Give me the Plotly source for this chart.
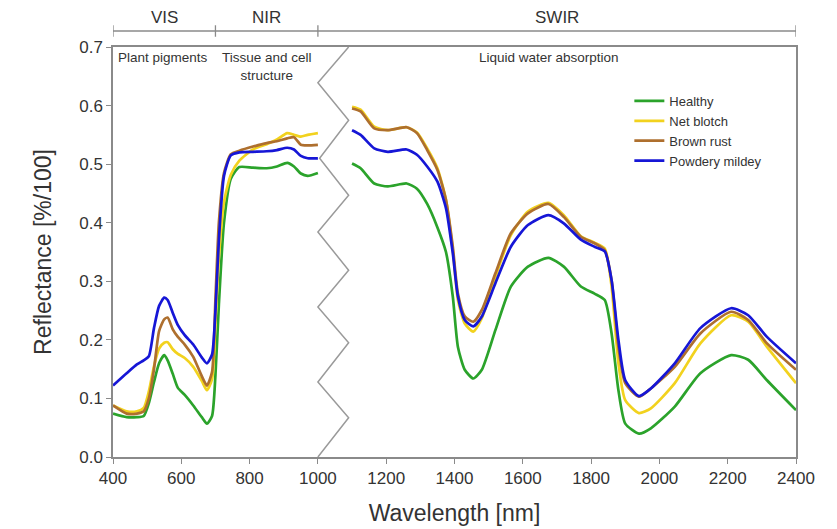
import plotly.graph_objects as go

# ---------------- data ----------------
WL_VNIR = [400, 440, 470, 490, 505, 520, 535, 550, 560, 575, 590, 610, 635, 660, 675, 690,
           700, 710, 725, 745, 770, 810, 850, 880, 910, 930, 950, 970, 1000]
WL_SWIR = [1100, 1125, 1165, 1205, 1260, 1290, 1320, 1350, 1375, 1395, 1410, 1430, 1455, 1480,
           1520, 1565, 1615, 1675, 1720, 1770, 1810, 1840, 1860, 1880, 1900, 1940, 1975, 2045,
           2120, 2210, 2260, 2315, 2400]

SERIES = ["Healthy", "Net blotch", "Brown rust", "Powdery mildey"]

HEALTHY_VNIR = [0.074, 0.068, 0.068, 0.070, 0.092, 0.128, 0.160, 0.174, 0.165, 0.142, 0.118, 0.106,
                0.088, 0.068, 0.057, 0.070, 0.140, 0.260, 0.400, 0.475, 0.495, 0.494, 0.493, 0.496,
                0.502, 0.496, 0.484, 0.480, 0.485]
NETBLOTCH_VNIR = [0.088, 0.078, 0.078, 0.084, 0.112, 0.155, 0.185, 0.195, 0.196, 0.184, 0.176, 0.169,
                  0.154, 0.130, 0.114, 0.133, 0.230, 0.340, 0.435, 0.482, 0.506, 0.525, 0.534, 0.542,
                  0.553, 0.550, 0.547, 0.550, 0.553]
BROWNRUST_VNIR = [0.088, 0.074, 0.074, 0.078, 0.100, 0.150, 0.215, 0.235, 0.238, 0.218, 0.205, 0.192,
                  0.171, 0.138, 0.122, 0.145, 0.270, 0.400, 0.485, 0.517, 0.523, 0.530, 0.536, 0.539,
                  0.544, 0.546, 0.533, 0.532, 0.533]
MILDEW_VNIR = [0.122, 0.143, 0.158, 0.165, 0.172, 0.220, 0.258, 0.272, 0.268, 0.246, 0.225, 0.208,
               0.192, 0.170, 0.160, 0.175, 0.250, 0.370, 0.480, 0.515, 0.520, 0.521, 0.522, 0.524,
               0.528, 0.525, 0.514, 0.510, 0.510]

HEALTHY_SWIR = [0.501, 0.493, 0.467, 0.462, 0.467, 0.458, 0.432, 0.392, 0.350, 0.274, 0.188, 0.149,
                0.134, 0.149, 0.217, 0.291, 0.325, 0.340, 0.325, 0.291, 0.279, 0.268, 0.211, 0.114,
                0.057, 0.040, 0.049, 0.086, 0.143, 0.174, 0.166, 0.131, 0.080]
NETBLOTCH_SWIR = [0.598, 0.593, 0.564, 0.558, 0.563, 0.554, 0.527, 0.493, 0.439, 0.353, 0.268, 0.228,
                  0.214, 0.237, 0.308, 0.379, 0.419, 0.434, 0.413, 0.377, 0.366, 0.356, 0.291, 0.160,
                  0.097, 0.075, 0.083, 0.126, 0.194, 0.242, 0.231, 0.188, 0.126]
BROWNRUST_SWIR = [0.595, 0.590, 0.561, 0.558, 0.563, 0.553, 0.524, 0.490, 0.439, 0.359, 0.279, 0.240,
                  0.231, 0.251, 0.314, 0.382, 0.416, 0.432, 0.410, 0.376, 0.365, 0.353, 0.302, 0.188,
                  0.126, 0.103, 0.117, 0.154, 0.211, 0.248, 0.234, 0.194, 0.149]
MILDEW_SWIR = [0.558, 0.550, 0.527, 0.521, 0.525, 0.516, 0.496, 0.470, 0.425, 0.348, 0.274, 0.234,
               0.223, 0.240, 0.297, 0.359, 0.396, 0.413, 0.399, 0.371, 0.359, 0.351, 0.302, 0.200,
               0.131, 0.104, 0.117, 0.160, 0.220, 0.254, 0.242, 0.205, 0.160]

COLORS = ["#2ba32b", "#f2d21e", "#ae6f2e", "#1616d6"]

# axis-break zigzag vertices (wavelength, reflectance)
BREAK_X = [1090, 1000, 1090, 1005, 1090, 1000, 1090, 1000, 1090, 1000, 1090, 1000]
BREAK_Y = [0.700, 0.639, 0.575, 0.510, 0.447, 0.384, 0.319, 0.256, 0.195, 0.128, 0.067, 0.0]

# spectral regions: (start, end, label)
REGIONS = [(400, 700, "VIS"), (700, 1000, "NIR"), (1000, 2400, "SWIR")]
REGION_NOTES = [(545, "Plant pigments"), (850, "Tissue and cell<br>structure"),
                (1677, "Liquid water absorption")]

X_TICKS = [400, 600, 800, 1000, 1200, 1400, 1600, 1800, 2000, 2200, 2400]
Y_TICKS = [0.0, 0.1, 0.2, 0.3, 0.4, 0.5, 0.6, 0.7]

# ---------------- figure ----------------
FONT = "Liberation Sans, Arial, sans-serif"
AXIS_GRAY = "#8a8a8a"
TXT = "#333333"

fig = go.Figure()

fig.add_trace(go.Scatter(x=BREAK_X, y=BREAK_Y, mode="lines",
                         line=dict(color="#9a9a9a", width=1.5),
                         showlegend=False, hoverinfo="skip"))

vnir = [HEALTHY_VNIR, NETBLOTCH_VNIR, BROWNRUST_VNIR, MILDEW_VNIR]
swir = [HEALTHY_SWIR, NETBLOTCH_SWIR, BROWNRUST_SWIR, MILDEW_SWIR]
for name, color, v, s in zip(SERIES, COLORS, vnir, swir):
    fig.add_trace(go.Scatter(
        x=WL_VNIR + [None] + WL_SWIR,
        y=v + [None] + s,
        mode="lines", name=name,
        line=dict(color=color, width=2.7, shape="spline", smoothing=0.6),
        connectgaps=False,
    ))

# header region bar
HEAD_Y = 1.039
fig.add_shape(type="line", xref="x", yref="paper", x0=REGIONS[0][0], x1=REGIONS[-1][1],
              y0=HEAD_Y, y1=HEAD_Y, line=dict(color=AXIS_GRAY, width=1.3))
bounds = sorted(set([r[0] for r in REGIONS] + [r[1] for r in REGIONS]))
for b in bounds:
    fig.add_shape(type="line", xref="x", yref="paper", x0=b, x1=b,
                  y0=HEAD_Y - 0.014, y1=HEAD_Y + 0.014, line=dict(color=AXIS_GRAY, width=1.3))
for a, b, lab in REGIONS:
    fig.add_annotation(x=(a + b) / 2, y=HEAD_Y + 0.004, xref="x", yref="paper", text=lab,
                       showarrow=False, yanchor="bottom",
                       font=dict(family=FONT, size=17, color=TXT))
for x, lab in REGION_NOTES:
    fig.add_annotation(x=x, y=0.998, xref="x", yref="paper", text=lab,
                       showarrow=False, yanchor="top",
                       font=dict(family=FONT, size=13.5, color=TXT))

fig.update_layout(
    width=837, height=529,
    margin=dict(l=113, r=41, t=47, b=72),
    paper_bgcolor="white", plot_bgcolor="white",
    font=dict(family=FONT, color=TXT),
    legend=dict(x=0.756, y=0.905, xanchor="left", yanchor="top",
                font=dict(family=FONT, size=13, color=TXT),
                bgcolor="rgba(0,0,0,0)", itemwidth=30, tracegroupgap=0),
    showlegend=True,
)
fig.update_xaxes(range=[400, 2400], tickvals=X_TICKS, ticks="outside", ticklen=5,
                 tickcolor=AXIS_GRAY, showline=True, linecolor=AXIS_GRAY, linewidth=1.5,
                 mirror=True, showgrid=False, zeroline=False, automargin=False,
                 tickfont=dict(family=FONT, size=17, color=TXT),
                 title=dict(text="Wavelength [nm]", font=dict(family=FONT, size=23, color=TXT),
                            standoff=18))
fig.update_yaxes(range=[0, 0.7], tickvals=Y_TICKS, tickformat=".1f", ticks="outside", ticklen=5,
                 tickcolor=AXIS_GRAY, showline=True, linecolor=AXIS_GRAY, linewidth=1.5,
                 mirror=True, showgrid=False, zeroline=False, automargin=False,
                 tickfont=dict(family=FONT, size=17, color=TXT),
                 title=dict(text="Reflectance [%/100]", font=dict(family=FONT, size=23, color=TXT),
                            standoff=21))

fig.write_html("out.html")
